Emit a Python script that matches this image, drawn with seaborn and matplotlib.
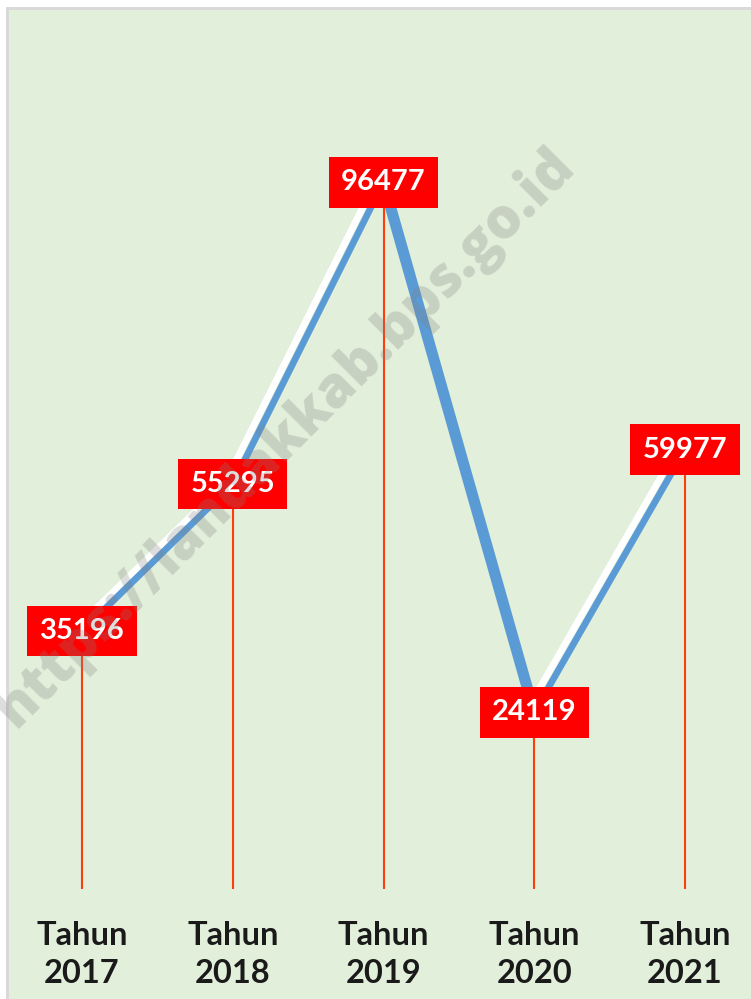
import pandas as pd
import matplotlib.pyplot as plt
import matplotlib.patheffects as pe
from matplotlib.patches import Rectangle
import seaborn as sns

# data
tahun = ["2017", "2018", "2019", "2020", "2021"]
jumlah = [35196, 55295, 96477, 24119, 59977]

df = pd.DataFrame({"tahun": tahun, "jumlah": jumlah})
df["pos"] = range(len(df))

sns.set_theme(style="white")
plt.rcParams["font.family"] = ["Lato", "DejaVu Sans"]

W, H = 751, 999
fig = plt.figure(figsize=(W / 100, H / 100), dpi=100, facecolor="white")

# chart area border + background
fig.patches.append(Rectangle((6 / W, 0), 1, 1 - 7 / H, transform=fig.transFigure,
                             facecolor="#D9D9D9", edgecolor="none", zorder=-2))
fig.patches.append(Rectangle((9 / W, 0), 1, 1 - 10 / H, transform=fig.transFigure,
                             facecolor="#E2EFDA", edgecolor="none", zorder=-1))

ax = fig.add_axes([9 / W, (H - 889) / H, (W - 9) / W, (889 - 10) / H])
ax.set_facecolor("none")

biru = "#5B9BD5"
# line drawn per segment: rising ones get a white shadow, the falling one is thicker
for i in range(len(df) - 1):
    seg = df.iloc[i:i + 2]
    if seg["jumlah"].iloc[1] >= seg["jumlah"].iloc[0]:
        sns.lineplot(data=seg, x="pos", y="jumlah", ax=ax, color=biru, linewidth=4.8,
                     sort=False, zorder=3,
                     path_effects=[pe.SimpleLineShadow(offset=(-5.5, 1), shadow_color="white",
                                                       alpha=1), pe.Normal()])
    else:
        sns.lineplot(data=seg, x="pos", y="jumlah", ax=ax, color=biru, linewidth=8,
                     sort=False, zorder=3.5)

# drop lines
ax.vlines(df["pos"], 0, df["jumlah"], color="#FF3D0D", linewidth=1.5, zorder=4)

# labels
for p, v in zip(df["pos"], df["jumlah"]):
    ax.text(p, v, str(v), ha="center", va="center", color="white", fontsize=21,
            fontweight="bold", zorder=6,
            bbox=dict(boxstyle="square,pad=0.42", facecolor="#FF0000", edgecolor="none"))

ax.set_xlim((9 - 82) / 150.75, (751 - 82) / 150.75)
ax.set_ylim(0, 120000)
ax.set_xticks(df["pos"])
ax.set_xticklabels(["Tahun\n" + t for t in tahun], fontsize=23.5, fontweight="bold",
                   color="#1A1A1A", linespacing=1.38)
ax.tick_params(axis="x", length=0, pad=23)
ax.set_yticks([])
ax.set_xlabel("")
ax.set_ylabel("")
for s in ax.spines.values():
    s.set_visible(False)

# watermark
fig.text(0.38, 0.562, "https://landakkab.bps.go.id", rotation=45, rotation_mode="anchor",
         ha="center", va="center", fontsize=40, fontweight="heavy", color="gray",
         alpha=0.27, zorder=10, family=["Open Sans", "DejaVu Sans"])

fig.savefig("out.png", dpi=100, facecolor="white")
